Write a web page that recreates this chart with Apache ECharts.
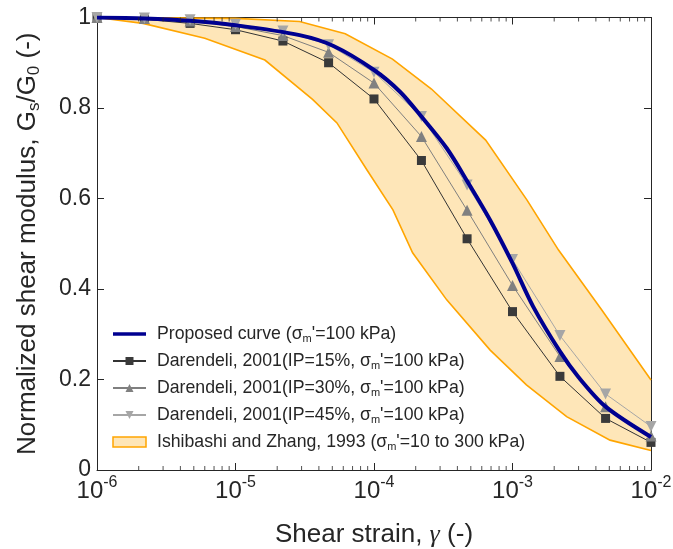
<!DOCTYPE html>
<html>
<head>
<meta charset="utf-8">
<script src="https://cdn.jsdelivr.net/npm/echarts@6/dist/echarts.min.js"></script>
<style>
html,body{margin:0;padding:0;background:#fff;}
#chart{width:673px;height:549px;}
</style>
</head>
<body>
<div id="chart"></div>
<script>
// ---- data ----
const strainD = [1e-6, 2.2e-6, 4.7e-6, 1e-5, 2.2e-5, 4.7e-5, 1e-4, 2.2e-4, 4.7e-4, 1e-3, 2.2e-3, 4.7e-3, 1e-2];
const ip15 = [1.0, 0.996, 0.987, 0.973, 0.948, 0.900, 0.820, 0.684, 0.511, 0.350, 0.207, 0.114, 0.061];
const ip30 = [1.0, 0.998, 0.992, 0.980, 0.960, 0.923, 0.855, 0.737, 0.574, 0.408, 0.251, 0.140, 0.075];
const ip45 = [1.0, 0.999, 0.995, 0.985, 0.970, 0.940, 0.879, 0.781, 0.630, 0.465, 0.297, 0.168, 0.096];

const strainP = [1e-6, 2.2e-6, 4.7e-6, 1e-5, 2.9e-5, 5.1e-5, 1e-4, 1.54e-4, 2.2e-4, 3.35e-4, 4.8e-4, 6.9e-4, 1e-3, 1.41e-3, 2.2e-3, 3e-3, 4.7e-3, 1e-2];
const proposed = [1.0, 0.998, 0.993, 0.983, 0.961, 0.937, 0.884, 0.836, 0.781, 0.711, 0.634, 0.552, 0.457, 0.361, 0.262, 0.205, 0.140, 0.073];

const bandUpperX = [1e-6, 1e-5, 2.9e-5, 6.2e-5, 1.36e-4, 2.6e-4, 6.4e-4, 1.27e-3, 2.15e-3, 4.4e-3, 1e-2];
const bandUpperY = [1.0, 0.998, 0.991, 0.964, 0.908, 0.842, 0.729, 0.597, 0.486, 0.354, 0.199];
const bandLowerX = [1e-6, 2.15e-6, 6.0e-6, 1.63e-5, 3.6e-5, 5.4e-5, 8.9e-5, 1.37e-4, 1.9e-4, 3.35e-4, 6.9e-4, 1.26e-3, 2.46e-3, 5.06e-3, 1e-2];
const bandLowerY = [1.0, 0.987, 0.954, 0.906, 0.819, 0.767, 0.663, 0.575, 0.480, 0.376, 0.265, 0.188, 0.118, 0.066, 0.043];

const minorTickX = [2e-6,3e-6,4e-6,5e-6,6e-6,7e-6,8e-6,9e-6,
                    2e-5,3e-5,4e-5,5e-5,6e-5,7e-5,8e-5,9e-5,
                    2e-4,3e-4,4e-4,5e-4,6e-4,7e-4,8e-4,9e-4,
                    2e-3,3e-3,4e-3,5e-3,6e-3,7e-3,8e-3,9e-3];

const names = {
  prop: "Proposed curve (σm'=100 kPa)",
  d15: "Darendeli, 2001(IP=15%, σm'=100 kPa)",
  d30: "Darendeli, 2001(IP=30%, σm'=100 kPa)",
  d45: "Darendeli, 2001(IP=45%, σm'=100 kPa)",
  band: "Ishibashi and Zhang, 1993 (σm'=10 to 300 kPa)"
};

// ---- chart ----
const FONT = "'Liberation Sans', Arial, sans-serif";
const NARROW = "'Liberation Sans Narrow', 'Liberation Sans', Arial, sans-serif";
const TXT = '#262626';
const pairs = (xs, ys) => xs.map((x, i) => [x, ys[i]]);

const chart = echarts.init(document.getElementById('chart'), null, {renderer: 'canvas'});

const axisLineStyle = {color: TXT, width: 1};
const option = {
  animation: false,
  backgroundColor: '#fff',
  grid: {left: 97, right: 22, top: 17.5, bottom: 79, containLabel: false, outerBoundsMode: 'none'},
  xAxis: [{
    type: 'log', logBase: 10, min: 1e-6, max: 1e-2, position: 'bottom',
    axisLine: {show: true, onZero: false, lineStyle: axisLineStyle},
    axisTick: {show: true, inside: true, length: 7, lineStyle: axisLineStyle},
    splitLine: {show: false},
    axisLabel: {
      margin: 5, color: TXT, fontSize: 24, fontFamily: NARROW, lineHeight: 32,
      formatter: v => '10{sup|' + Math.round(Math.log10(v)) + '}',
      rich: {sup: {fontSize: 16, fontFamily: NARROW, color: TXT, lineHeight: 16, verticalAlign: 'top'}}
    },
    name: 'Shear strain, {g|γ} (-)', nameLocation: 'middle', nameGap: 50,
    nameTextStyle: {color: TXT, fontSize: 26, fontFamily: FONT, lineHeight: 30,
      rich: {g: {fontSize: 26, fontFamily: "'Liberation Serif', 'DejaVu Serif', serif", fontStyle: 'italic', color: TXT, lineHeight: 30}}}
  }, {
    type: 'log', logBase: 10, min: 1e-6, max: 1e-2, position: 'top',
    axisLine: {show: true, onZero: false, lineStyle: axisLineStyle},
    axisTick: {show: true, inside: true, length: 7, lineStyle: axisLineStyle},
    axisLabel: {show: false}, splitLine: {show: false}
  }],
  yAxis: [{
    type: 'value', min: 0, max: 1, interval: 0.2, position: 'left',
    axisLine: {show: true, onZero: false, lineStyle: axisLineStyle},
    axisTick: {show: true, inside: true, length: 7, lineStyle: axisLineStyle},
    splitLine: {show: false},
    axisLabel: {margin: 6, color: TXT, fontSize: 23, fontFamily: NARROW,
      formatter: v => (v === 0 ? '0' : (Math.abs(v - 1) < 1e-9 ? '1' : v.toFixed(1)))},
    name: 'Normalized shear modulus, G{sub|s}/G{sub|0} (-)', nameLocation: 'middle', nameGap: 54, nameRotate: 90,
    nameTextStyle: {color: TXT, fontSize: 26, fontFamily: FONT, lineHeight: 30,
      rich: {sub: {fontSize: 17, fontFamily: FONT, color: TXT, lineHeight: 17, verticalAlign: 'bottom'}}}
  }, {
    type: 'value', min: 0, max: 1, interval: 0.2, position: 'right',
    axisLine: {show: true, onZero: false, lineStyle: axisLineStyle},
    axisTick: {show: true, inside: true, length: 7, lineStyle: axisLineStyle},
    axisLabel: {show: false}, splitLine: {show: false}
  }],
  legend: {
    orient: 'vertical', left: 112, top: 324, padding: 0, itemGap: 7,
    itemWidth: 33, itemHeight: 10, selectedMode: false,
    textStyle: {color: TXT, fontSize: 17.7, fontFamily: FONT, lineHeight: 20, padding: [0, 0, 0, 6],
      rich: {sub: {fontSize: 11, fontFamily: FONT, color: TXT, lineHeight: 11, verticalAlign: 'bottom'}}},
    formatter: n => n.replace(/σm/g, 'σ{sub|m}'),
    data: [
      {name: names.prop, icon: 'path://M0,0H33V3.4H0Z', itemStyle: {color: '#000090'}},
      {name: names.d15},
      {name: names.d30},
      {name: names.d45},
      {name: names.band, icon: 'rect', itemStyle: {color: '#fee6b8', borderColor: '#ffa500', borderWidth: 1.5}}
    ]
  },
  series: [
    {
      name: names.band, type: 'custom', xAxisIndex: 0, yAxisIndex: 0, z: 1,
      itemStyle: {color: '#fee6b8', borderColor: '#ffa500', borderWidth: 1.5},
      data: [[bandUpperX[0], bandUpperY[0]]],
      renderItem: (params, api) => {
        const up = pairs(bandUpperX, bandUpperY).map(p => api.coord(p));
        const lo = pairs(bandLowerX, bandLowerY).map(p => api.coord(p));
        return {type: 'group', children: [
          {type: 'polygon', shape: {points: up.concat(lo.slice().reverse())}, style: {fill: '#fee6b8', stroke: 'none'}},
          {type: 'polyline', shape: {points: up}, style: {fill: 'none', stroke: '#ffa500', lineWidth: 1.6}},
          {type: 'polyline', shape: {points: lo}, style: {fill: 'none', stroke: '#ffa500', lineWidth: 1.6}}
        ]};
      }
    },
    {
      name: names.d15, type: 'line', z: 3, data: pairs(strainD, ip15),
      symbol: 'rect', symbolSize: 9, showAllSymbol: true,
      lineStyle: {color: '#333333', width: 1}, itemStyle: {color: '#3a3a3a'}
    },
    {
      name: names.d30, type: 'line', z: 3, data: pairs(strainD, ip30),
      symbol: 'triangle', symbolSize: 11, showAllSymbol: true,
      lineStyle: {color: '#7f7f7f', width: 1}, itemStyle: {color: '#808080'}
    },
    {
      name: names.d45, type: 'line', z: 3, data: pairs(strainD, ip45),
      symbol: 'triangle', symbolRotate: 180, symbolSize: 11, showAllSymbol: true,
      lineStyle: {color: '#a6a6a6', width: 1}, itemStyle: {color: '#a6a6a6'}
    },
    {
      name: names.prop, type: 'line', z: 4, data: pairs(strainP, proposed),
      symbol: 'none', smooth: 0.3,
      lineStyle: {color: '#000090', width: 4}, itemStyle: {color: '#000090'}
    },
    {
      type: 'scatter', z: 6, silent: true, clip: false,
      data: minorTickX.map(x => [x, 0]),
      symbol: 'rect', symbolSize: [1, 4], symbolOffset: [0, -2],
      itemStyle: {color: TXT}
    },
    {
      type: 'scatter', z: 6, silent: true, clip: false,
      data: minorTickX.map(x => [x, 1]),
      symbol: 'rect', symbolSize: [1, 4], symbolOffset: [0, 2],
      itemStyle: {color: TXT}
    }
  ]
};
chart.setOption(option);
</script>
</body>
</html>
